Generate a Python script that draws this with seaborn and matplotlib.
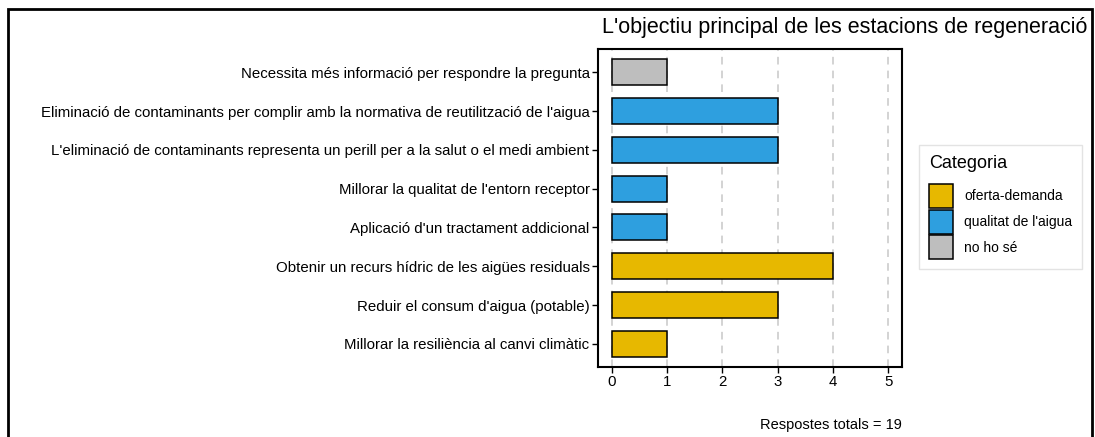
import pandas as pd
import seaborn as sns
import matplotlib.pyplot as plt
from matplotlib.patches import Rectangle, Patch

sns.set_theme(style="white")
plt.rcParams['font.family'] = ['Liberation Sans', 'DejaVu Sans']
plt.rcParams['text.color'] = 'black'

# Dades
respostes = [
    "Necessita més informació per respondre la pregunta",
    "Eliminació de contaminants per complir amb la normativa de reutilització de l'aigua",
    "L'eliminació de contaminants representa un perill per a la salut o el medi ambient",
    "Millorar la qualitat de l'entorn receptor",
    "Aplicació d'un tractament addicional",
    "Obtenir un recurs hídric de les aigües residuals",
    "Reduir el consum d'aigua (potable)",
    "Millorar la resiliència al canvi climàtic",
]
recompte = [1, 3, 3, 1, 1, 4, 3, 1]
categoria = ["no ho sé", "qualitat de l'aigua", "qualitat de l'aigua", "qualitat de l'aigua",
             "qualitat de l'aigua", "oferta-demanda", "oferta-demanda", "oferta-demanda"]
categories = ["oferta-demanda", "qualitat de l'aigua", "no ho sé"]
colors = ["#E7B800", "#2E9FDF", "#BEBEBE"]
total = 19

df = pd.DataFrame({"resposta": respostes, "n": recompte, "Categoria": categoria})
paleta = dict(zip(categories, colors))

fig = plt.figure(figsize=(10.95, 4.37), dpi=100)
ax = fig.add_axes([0.546, 0.160, 0.278, 0.728])

for v in range(0, 6):
    ax.axvline(v, color="#C8C8C8", lw=1.1, ls=(0, (5, 4)), zorder=0)

sns.barplot(data=df, y="resposta", x="n", hue="Categoria", hue_order=categories,
            palette=paleta, dodge=False, width=0.67, orient="h",
            edgecolor="black", linewidth=1.1, saturation=1, legend=False, ax=ax, zorder=2)

ax.set_xlim(-0.25, 5.25)
ax.set_ylim(7.6, -0.6)
ax.set_xticks(range(0, 6))
ax.set_xlabel("")
ax.set_ylabel("")
ax.tick_params(axis="both", which="both", length=4, width=1, color="black",
               labelsize=10.8, labelcolor="black", left=True, bottom=True, pad=2)
for s in ax.spines.values():
    s.set_visible(True)
    s.set_color("black")
    s.set_linewidth(1.5)

handles = [Patch(facecolor=c, edgecolor="black", linewidth=1.1, label=l)
           for l, c in zip(categories, colors)]
leg = fig.legend(handles=handles, title="Categoria", loc="center left",
                 bbox_to_anchor=(919 / 1095, 1 - 207 / 437), borderaxespad=0,
                 fontsize=10, title_fontsize=13, handlelength=1.75, handleheight=2.3,
                 labelspacing=0.1, frameon=True, fancybox=False,
                 borderpad=0.7, handletextpad=0.8)
leg.get_frame().set_edgecolor("#DDDDDD")
leg.get_frame().set_linewidth(1)
leg._legend_box.align = "left"
leg._legend_box.sep = 9
for t in leg.get_texts():
    t.set_color("black")
leg.get_title().set_color("black")

fig.text(1087 / 1095, 1 - 27 / 437, "L'objectiu principal de les estacions de regeneració",
         ha="right", va="center", fontsize=15.5, color="black")
fig.text(902 / 1095, 1 - 425 / 437, f"Respostes totals = {total}",
         ha="right", va="center", fontsize=10.5, color="black")

fig.patches.append(Rectangle((8 / 1095, -0.1), (1092 - 8) / 1095, 1.1 - 9 / 437,
                             transform=fig.transFigure, fill=False,
                             edgecolor="black", linewidth=2, zorder=10))

fig.savefig("out.png", dpi=100)
